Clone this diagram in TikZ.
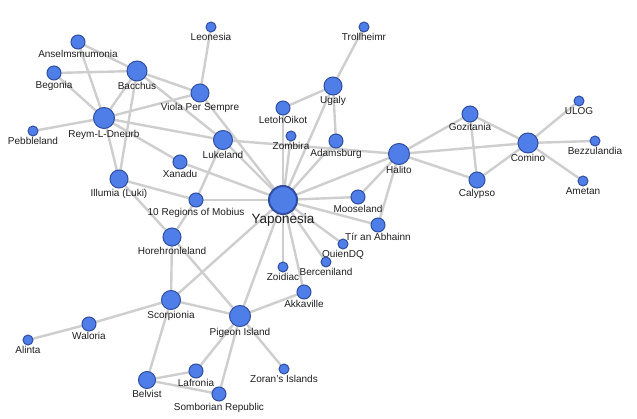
\documentclass[tikz,border=0pt]{standalone}
\usepackage{fontspec}
\setmainfont{Liberation Sans}
\usetikzlibrary{backgrounds}
\definecolor{nodefill}{RGB}{80,126,233}
\definecolor{nodeedge}{RGB}{48,78,160}
\definecolor{linkgray}{RGB}{206,206,206}
\tikzset{
  gnode/.style={circle, fill=nodefill, draw=nodeedge, line width=1pt, inner sep=0pt, outer sep=0pt},
  glabel/.style={font=\fontsize{10}{12}\selectfont, inner sep=0pt, anchor=base, text=black!88},
  glink/.style={draw=linkgray, line width=2.4pt},
}
\newcommand\gn[5]{%
  \node[gnode, minimum size=#4*2pt] (#1) at (#2,#3) {};
  \node[glabel] (#1-l) at (#2,#3+#4+9) {#5};
}
\begin{document}
\begin{tikzpicture}[x=1pt,y=-1pt]
\useasboundingbox (0,0) rectangle (637,419);
% nodes
\node[gnode, minimum size=28pt, line width=2pt] (yap) at (283,200) {};
\node[glabel, font=\fontsize{13.5}{16}\selectfont] (yap-l) at (283,224) {Yaponesia};
\gn{rey}{104}{118}{10.5}{Reym-L-Dneurb}
\gn{bac}{137}{71}{10}{Bacchus}
\gn{hal}{399}{154}{10.5}{Halito}
\gn{com}{528}{143}{10}{Comino}
\gn{pig}{240}{316}{10.5}{Pigeon Island}
\gn{luk}{223}{140}{9.5}{Lukeland}
\gn{sco}{171}{300}{9.5}{Scorpionia}
\gn{uga}{333}{86}{9}{Ugaly}
\gn{vio}{200}{93}{9}{Viola Per Sempre}
\gn{hor}{172}{237}{9}{Horehronleland}
\gn{ill}{119}{179}{9}{Illumia (Luki)}
\gn{goz}{470}{114}{8}{Gozitania}
\gn{cal}{477}{180}{8}{Calypso}
\gn{bel}{147}{380}{8.5}{Belvist}
\gn{ans}{78}{42}{7}{Anselmsmumonia}
\gn{beg}{54}{73}{7}{Begonia}
\gn{let}{283}{108}{7}{LetohOikot}
\gn{xan}{180}{162}{7}{Xanadu}
\gn{ten}{196}{200}{7}{10 Regions of Mobius}
\gn{ada}{336}{141}{7}{Adamsburg}
\gn{moo}{358}{197}{7}{Mooseland}
\gn{tir}{378}{225}{7}{Tír an Abhainn}
\gn{akk}{304}{292}{7}{Akkaville}
\gn{wal}{89}{324}{7}{Waloria}
\gn{laf}{196}{371}{7}{Lafronia}
\gn{som}{219}{394}{7}{Somborian Republic}
\gn{leo}{211}{27}{5}{Leonesia}
\gn{tro}{364}{27}{5}{Trollheimr}
\gn{peb}{33}{131}{5}{Pebbleland}
\gn{zom}{291}{136}{5}{Zombira}
\gn{ulo}{579}{101}{5}{ULOG}
\gn{bez}{595}{141}{5}{Bezzulandia}
\gn{ame}{583}{181}{5}{Ametan}
\gn{qui}{343}{244}{5}{QuienDQ}
\gn{ber}{326}{262}{5}{Berceniland}
\gn{zoi}{283}{267}{5}{Zoidiac}
\gn{ali}{28}{340}{5}{Alinta}
\gn{zor}{284}{369}{5}{Zoran's Islands}
% links
\begin{scope}[on background layer]
\fill[white] (0,0) rectangle (637,419);
\foreach \a/\b in {ans/bac, ans/rey, beg/bac, beg/rey, bac/rey, bac/ill, bac/vio, bac/luk,
  rey/vio, rey/peb, rey/luk, rey/xan, rey/ill, leo/vio, vio/yap, luk/yap, luk/hal, luk/ten,
  xan/yap, ill/ten, ill/hor, ten/yap, ten/hor, hor/sco, hor/pig, sco/yap, sco/pig, sco/wal,
  wal/ali, sco/bel, bel/laf, bel/som, laf/pig, som/pig, pig/zor, pig/akk, pig/yap, akk/yap,
  zoi/yap, ber/yap, qui/yap, tir/yap, tir/hal, moo/yap, moo/hal, hal/yap, ada/yap, ada/uga,
  uga/yap, uga/let, uga/tro, let/yap, zom/yap, hal/goz, hal/com, hal/cal, goz/com, goz/cal,
  cal/com, com/ulo, com/bez, com/ame}
  \draw[glink] (\a) -- (\b);
\end{scope}
\end{tikzpicture}
\end{document}
